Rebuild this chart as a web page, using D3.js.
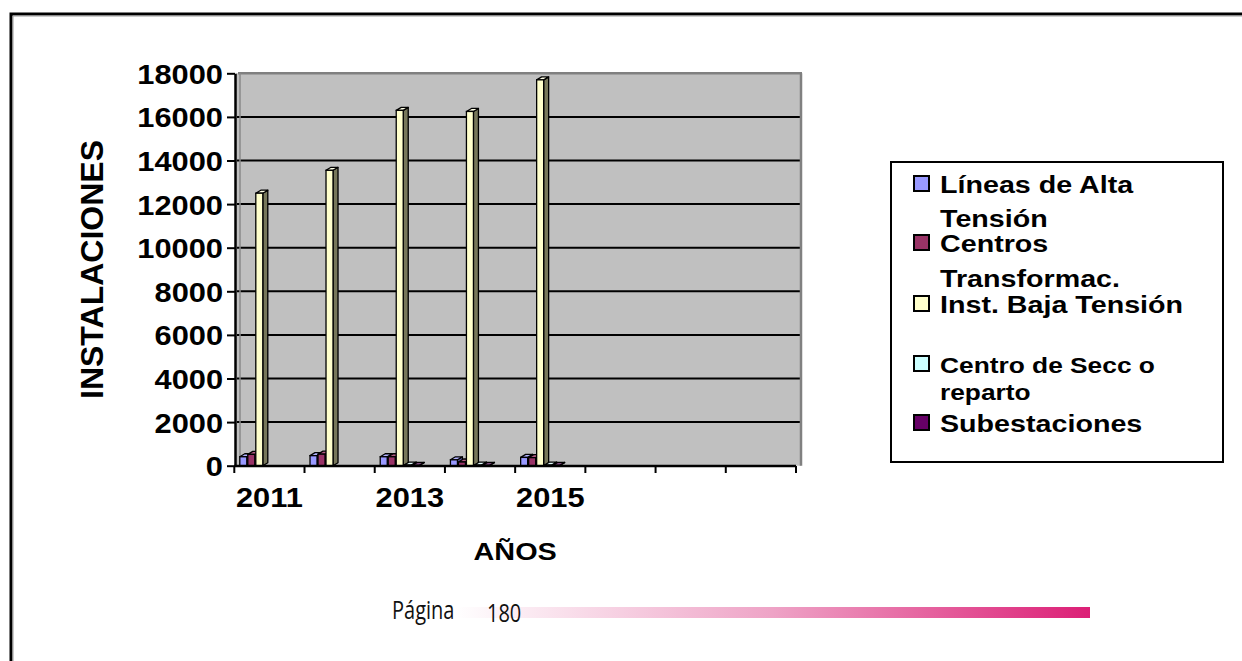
<!DOCTYPE html>
<html>
<head>
<meta charset="utf-8">
<script src="https://cdn.jsdelivr.net/npm/d3@7"></script>
<style>
  html, body { margin: 0; padding: 0; background: #fff; }
  svg { display: block; }
</style>
</head>
<body>
<svg id="chart" width="1242" height="661"></svg>
<script>
// ---------------- DATA ----------------
const categories = ["2011", "2012", "2013", "2014", "2015", "", "", ""];
const xTickLabels = ["2011", "", "2013", "", "2015", "", "", ""];
const seriesNames = ["Líneas de Alta Tensión", "Centros Transformac.", "Inst. Baja Tensión", "Centro de Secc o reparto", "Subestaciones"];
const lineasAltaTension   = [410, 460, 410, 270, 380];
const centrosTransformac  = [520, 530, 410, 170, 370];
const instBajaTension     = [12500, 13550, 16300, 16250, 17700];
const centroSeccReparto   = [0, 0, 30, 30, 30];
const subestaciones       = [0, 0, 15, 15, 15];
const yTicks = [0, 2000, 4000, 6000, 8000, 10000, 12000, 14000, 16000, 18000];
const yTitle = "INSTALACIONES";
const xTitle = "AÑOS";
const legendLines = [["Líneas de Alta", "Tensión"], ["Centros", "Transformac."], ["Inst. Baja Tensión"], ["Centro de Secc o", "reparto"], ["Subestaciones"]];
const pageLabel = "Página";
const pageNumber = "180";

// ---------------- STYLE ----------------
const seriesValues = [lineasAltaTension, centrosTransformac, instBajaTension, centroSeccReparto, subestaciones];
const fills = ["#9999FF", "#993366", "#FFFFCC", "#CCFFFF", "#660066"];
const sides = ["#5c5ca0", "#5e1f3f", "#77775a", "#7a9999", "#3d003d"];
const tops  = ["#b3b3ff", "#b35c85", "#ffffe6", "#e6ffff", "#854d85"];
const FONT = "'Liberation Sans', Arial, sans-serif";

const svg = d3.select("#chart");

// outer frame
svg.append("rect").attr("x", 11).attr("y", 14).attr("width", 1400).attr("height", 900)
  .attr("fill", "none").attr("stroke", "#000").attr("stroke-width", 3);
svg.append("line").attr("x1", 13).attr("x2", 1242).attr("y1", 16).attr("y2", 16).attr("stroke", "#999").attr("stroke-width", 1);
svg.append("line").attr("x1", 13).attr("x2", 13).attr("y1", 16).attr("y2", 661).attr("stroke", "#999").attr("stroke-width", 1);

// scales
const plot = { left: 234.3, right: 796, top: 73.3, bottom: 465.7 };
const y = d3.scaleLinear().domain([0, 18000]).range([plot.bottom, plot.top]);
const x0 = d3.scaleBand().domain(d3.range(categories.length)).range([plot.left, plot.right]).padding(0);
const x1 = d3.scaleBand().domain(d3.range(seriesValues.length)).range([5.5, 5.5 + 40]).padding(0);

// plot background (walls)
svg.append("rect").attr("x", 236).attr("y", plot.top).attr("width", 801 - 236).attr("height", plot.bottom - plot.top)
  .attr("fill", "#C0C0C0");

// gridlines
svg.append("g").selectAll("line").data(yTicks.filter(d => d > 0 && d < 18000)).join("line")
  .attr("x1", 237).attr("x2", 800)
  .attr("y1", d => y(d)).attr("y2", d => y(d))
  .attr("stroke", "#000").attr("stroke-width", 2);

// wall edges
svg.append("line").attr("x1", 238).attr("x2", 802).attr("y1", plot.top).attr("y2", plot.top).attr("stroke", "#808080").attr("stroke-width", 2.5);
svg.append("line").attr("x1", 801).attr("x2", 801).attr("y1", plot.top).attr("y2", plot.bottom).attr("stroke", "#808080").attr("stroke-width", 2.5);
svg.append("line").attr("x1", 240).attr("x2", 240).attr("y1", plot.top).attr("y2", plot.bottom).attr("stroke", "#8a8a8a").attr("stroke-width", 1.5);

// bars (3D look)
const dx = 5, dy = -3, base = plot.bottom;
const barData = [];
categories.forEach((c, ci) => {
  seriesValues.forEach((vals, si) => {
    if (ci < vals.length) barData.push({ ci, si, v: vals[ci] });
  });
});
const bars = svg.append("g").selectAll("g").data(barData).join("g");
bars.each(function (d) {
  const g = d3.select(this);
  const bx = x0(d.ci) + x1(d.si);
  const bw = x1.bandwidth() - 1;
  const ty = y(d.v);
  if (d.v <= 0) return;
  g.append("path")
    .attr("d", `M${bx + bw},${ty} L${bx + bw + dx},${ty + dy} L${bx + bw + dx},${base + dy} L${bx + bw},${base} Z`)
    .attr("fill", sides[d.si]).attr("stroke", "#000").attr("stroke-width", 1.3).attr("stroke-linejoin", "round");
  g.append("path")
    .attr("d", `M${bx},${ty} L${bx + dx},${ty + dy} L${bx + bw + dx},${ty + dy} L${bx + bw},${ty} Z`)
    .attr("fill", tops[d.si]).attr("stroke", "#000").attr("stroke-width", 1.3).attr("stroke-linejoin", "round");
  g.append("rect").attr("x", bx).attr("y", ty).attr("width", bw).attr("height", base - ty)
    .attr("fill", fills[d.si]).attr("stroke", "#000").attr("stroke-width", 1.3);
});

// y axis
const yAxis = svg.append("g").attr("transform", `translate(${235},0)`)
  .call(d3.axisLeft(y).tickValues(yTicks).tickSize(8).tickSizeOuter(0).tickFormat(d => String(d)));
yAxis.select(".domain").attr("stroke", "#000").attr("stroke-width", 2.5);
yAxis.selectAll(".tick line").attr("stroke", "#000").attr("stroke-width", 2);
yAxis.selectAll(".tick text")
  .attr("x", 0).attr("dy", null)
  .attr("transform", "translate(-12,10) scale(1.1,1)")
  .attr("font-family", FONT).attr("font-weight", "bold").attr("font-size", 28).attr("fill", "#000");

// x axis
const xAxis = svg.append("g");
xAxis.append("line").attr("x1", plot.left).attr("x2", plot.right).attr("y1", 466).attr("y2", 466)
  .attr("stroke", "#000").attr("stroke-width", 2.5);
const boundaries = d3.range(categories.length + 1).map(i => i < categories.length ? x0(i) : plot.right);
xAxis.selectAll("line.tk").data(boundaries).join("line").attr("class", "tk")
  .attr("x1", d => d).attr("x2", d => d).attr("y1", 466).attr("y2", 473)
  .attr("stroke", "#000").attr("stroke-width", 2);
xAxis.selectAll("text").data(xTickLabels).join("text")
  .attr("transform", (d, i) => `translate(${x0(i) + x0.bandwidth() / 2},507) scale(1.1,1)`)
  .attr("text-anchor", "middle")
  .attr("font-family", FONT).attr("font-weight", "bold").attr("font-size", 28).attr("fill", "#000")
  .text(d => d);

// axis titles
svg.append("text")
  .attr("transform", `translate(103,${(plot.top + plot.bottom) / 2}) rotate(-90)`)
  .attr("text-anchor", "middle")
  .attr("font-family", FONT).attr("font-weight", "bold").attr("font-size", 32).attr("fill", "#000")
  .text(yTitle);
svg.append("text")
  .attr("transform", `translate(${(plot.left + plot.right) / 2},560) scale(1.2,1)`)
  .attr("text-anchor", "middle")
  .attr("font-family", FONT).attr("font-weight", "bold").attr("font-size", 24).attr("fill", "#000")
  .text(xTitle);

// legend
svg.append("rect").attr("x", 891).attr("y", 162).attr("width", 332).attr("height", 300)
  .attr("fill", "#fff").attr("stroke", "#000").attr("stroke-width", 2);
const legendBase = [193, 252, 313, 373, 432];
const legendGap = [34, 35, 0, 27, 0];
const legendSize = [24.5, 24.5, 24.5, 22.5, 24.5];
const lg = svg.append("g").selectAll("g").data(legendLines).join("g");
lg.append("rect")
  .attr("x", 914).attr("y", (d, i) => legendBase[i] - 17).attr("width", 15).attr("height", 15)
  .attr("fill", (d, i) => fills[i]).attr("stroke", "#000").attr("stroke-width", 2);
lg.each(function (lines, i) {
  d3.select(this).selectAll("text").data(lines).join("text")
    .attr("transform", (t, j) => `translate(940,${legendBase[i] + j * legendGap[i]}) scale(1.17,1)`)
    .attr("font-family", FONT).attr("font-weight", "bold").attr("font-size", legendSize[i]).attr("fill", "#000")
    .text(t => t);
});

// footer
const defs = svg.append("defs");
const grad = defs.append("linearGradient").attr("id", "pg").attr("x1", "0%").attr("x2", "100%");
grad.append("stop").attr("offset", "0%").attr("stop-color", "#ffffff");
grad.append("stop").attr("offset", "50%").attr("stop-color", "#eea3c6");
grad.append("stop").attr("offset", "100%").attr("stop-color", "#dc1f76");
svg.append("rect").attr("x", 455).attr("y", 607).attr("width", 635).attr("height", 11).attr("fill", "url(#pg)");
const NARROW = "'Open Sans', 'Noto Sans', sans-serif";
svg.append("text").attr("transform", "translate(392,619) scale(0.8,1)")
  .attr("font-family", NARROW).attr("font-size", 25).attr("fill", "#111").text(pageLabel);
svg.append("text").attr("transform", "translate(487,622) scale(0.8,1)")
  .attr("font-family", NARROW).attr("font-size", 25).attr("fill", "#111").text(pageNumber);
</script>
</body>
</html>
